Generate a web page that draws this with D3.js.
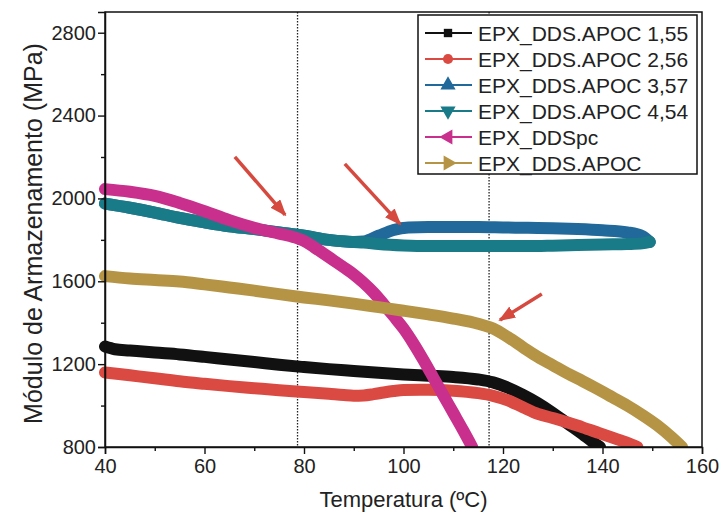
<!DOCTYPE html>
<html>
<head>
<meta charset="utf-8">
<script src="https://cdn.jsdelivr.net/npm/d3@7"></script>
<style>
  body { margin: 0; background: #fff; }
  text { font-family: "Liberation Sans", Arial, sans-serif; }
</style>
</head>
<body>
<div id="chart"></div>
<script>
//Series Names
const seriesNames = ["EPX_DDS.APOC 1,55", "EPX_DDS.APOC 2,56", "EPX_DDS.APOC 3,57", "EPX_DDS.APOC 4,54", "EPX_DDSpc", "EPX_DDS.APOC"];

//Temperatures (ºC) and Storage Modulus (MPa) for each series
const temp155 = [40, 42, 45, 50, 55, 60, 65, 70, 75, 80, 85, 90, 95, 100, 105, 110, 115, 118, 121, 124, 127, 130, 133, 136, 138, 139.5];
const mod155 = [1285, 1272, 1266, 1256, 1247, 1235, 1222, 1210, 1197, 1186, 1176, 1167, 1158, 1150, 1144, 1138, 1126, 1112, 1086, 1052, 1012, 965, 913, 862, 825, 800];

const temp256 = [40, 45, 50, 55, 60, 65, 70, 75, 80, 85, 88, 90, 92, 94, 96, 98, 100, 105, 110, 115, 118, 121, 124, 127, 130, 133, 136, 139, 142, 145, 147];
const mod256 = [1160, 1146, 1132, 1117, 1105, 1094, 1084, 1074, 1066, 1057, 1051, 1048, 1049, 1055, 1063, 1070, 1075, 1076, 1072, 1060, 1047, 1025, 992, 960, 940, 918, 895, 870, 845, 820, 800];

const temp357 = [40, 45, 50, 55, 60, 65, 70, 75, 80, 85, 90, 92, 95, 98, 101, 105, 110, 115, 120, 125, 130, 135, 140, 145, 148, 149.5];
const mod357 = [1975, 1955, 1932, 1906, 1885, 1866, 1852, 1836, 1820, 1800, 1790, 1792, 1820, 1848, 1860, 1862, 1862, 1862, 1860, 1858, 1856, 1852, 1846, 1836, 1818, 1790];

const temp454 = [40, 45, 50, 55, 60, 65, 70, 75, 80, 85, 90, 92, 95, 100, 105, 110, 115, 120, 125, 130, 135, 140, 145, 148, 149.5];
const mod454 = [1975, 1955, 1932, 1906, 1885, 1866, 1852, 1836, 1820, 1800, 1790, 1787, 1780, 1773, 1770, 1770, 1770, 1770, 1770, 1772, 1775, 1778, 1780, 1783, 1790];

const tempPc = [40, 45, 50, 55, 60, 65, 70, 75, 78, 80, 82, 84, 86, 88, 90, 92, 94, 96, 98, 100, 102, 104, 106, 108, 110, 112, 113.8];
const modPc = [2045, 2032, 2012, 1978, 1938, 1895, 1858, 1830, 1813, 1795, 1765, 1733, 1700, 1667, 1633, 1592, 1545, 1490, 1432, 1372, 1300, 1220, 1135, 1050, 965, 880, 800];

const tempApoc = [40, 45, 50, 55, 60, 65, 70, 75, 80, 85, 90, 95, 100, 105, 110, 115, 118, 121, 124, 127, 130, 133, 136, 139, 142, 145, 148, 151, 154, 156];
const modApoc = [1625, 1613, 1606, 1599, 1585, 1570, 1555, 1538, 1522, 1508, 1492, 1475, 1458, 1440, 1420, 1395, 1372, 1330, 1282, 1235, 1195, 1155, 1118, 1080, 1040, 1000, 955, 905, 845, 800];

//Axis Ticks
const xTicks = [40, 60, 80, 100, 120, 140, 160];
const xMinorTicks = [50, 70, 90, 110, 130, 150];
const yTicks = [800, 1200, 1600, 2000, 2400, 2800];
const yMinorTicks = [1000, 1400, 1800, 2200, 2600];

//Dotted Reference Temperatures
const refTemps = [78.7, 117.2];

//Red Arrows [temperature, modulus] from tail to head
const arrowTails = [[66.1, 2201], [88.2, 2167], [127.8, 1539]];
const arrowHeads = [[76.2, 1921], [99.3, 1877], [119.4, 1413]];

function drawChart() {
  //Chart Variables and Constants
  const width = 724;
  const height = 517;
  const margin = { top: 12, right: 22, bottom: 70, left: 105 };
  const colors = ["#111111", "#db4a42", "#21699a", "#1a7b88", "#c92f8c", "#b59445"];
  const symbols = ["square", "circle", "up", "down", "left", "right"];

  const svg = d3
    .select("#chart")
    .append("svg")
    .attr("width", width)
    .attr("height", height);

  const x = d3.scaleLinear().domain([40, 160]).range([margin.left, width - margin.right]);
  const y = d3.scaleLinear().domain([800, 2900]).range([height - margin.bottom, margin.top]);

  //Series Table
  const series = [
    [temp155, mod155],
    [temp256, mod256],
    [temp357, mod357],
    [temp454, mod454],
    [tempPc, modPc],
    [tempApoc, modApoc],
  ].map(([t, m], i) => ({
    name: seriesNames[i],
    color: colors[i],
    symbol: symbols[i],
    values: t.map((d, j) => ({ t: d, m: m[j] })),
  }));

  //Dotted Lines
  svg
    .selectAll(".ref")
    .data(refTemps)
    .enter()
    .append("line")
    .attr("x1", (d) => x(d))
    .attr("x2", (d) => x(d))
    .attr("y1", y(2900))
    .attr("y2", y(800))
    .attr("stroke", "#222")
    .attr("stroke-width", 1.3)
    .attr("stroke-dasharray", "1.5,1.5");

  //Curves
  const line = d3
    .line()
    .x((d) => x(d.t))
    .y((d) => y(d.m))
    .curve(d3.curveMonotoneX);

  svg
    .append("g")
    .selectAll("path")
    .data(series)
    .enter()
    .append("path")
    .attr("d", (d) => line(d.values))
    .attr("fill", "none")
    .attr("stroke", (d) => d.color)
    .attr("stroke-width", 12)
    .attr("stroke-linecap", "round")
    .attr("stroke-linejoin", "round");

  //Cover curves leaking under the x axis
  svg
    .append("rect")
    .attr("x", margin.left - 10)
    .attr("y", height - margin.bottom)
    .attr("width", width - margin.left - margin.right + 20)
    .attr("height", margin.bottom)
    .attr("fill", "#fff");

  //Arrows
  const defs = svg.append("defs");
  defs
    .append("marker")
    .attr("id", "arrow")
    .attr("markerUnits", "userSpaceOnUse")
    .attr("viewBox", "0 0 17 13")
    .attr("refX", 15)
    .attr("refY", 6.5)
    .attr("markerWidth", 17)
    .attr("markerHeight", 13)
    .attr("orient", "auto")
    .append("path")
    .attr("d", "M0,0 L17,6.5 L0,13 Z")
    .attr("fill", "#d6493f");

  svg
    .selectAll(".arrow")
    .data(arrowTails)
    .enter()
    .append("line")
    .attr("x1", (d) => x(d[0]))
    .attr("y1", (d) => y(d[1]))
    .attr("x2", (d, i) => x(arrowHeads[i][0]))
    .attr("y2", (d, i) => y(arrowHeads[i][1]))
    .attr("stroke", "#d6493f")
    .attr("stroke-width", 3.5)
    .attr("marker-end", "url(#arrow)");

  //Frame
  svg
    .append("rect")
    .attr("x", margin.left)
    .attr("y", margin.top)
    .attr("width", width - margin.left - margin.right)
    .attr("height", height - margin.top - margin.bottom)
    .attr("fill", "none")
    .attr("stroke", "#111")
    .attr("stroke-width", 1.5);

  //X Axis
  const xAxis = svg
    .append("g")
    .attr("transform", `translate(0, ${height - margin.bottom})`)
    .call(d3.axisBottom(x).tickValues(xTicks).tickSize(7).tickPadding(5).tickFormat(d3.format("d")));
  svg
    .append("g")
    .attr("transform", `translate(0, ${height - margin.bottom})`)
    .call(d3.axisBottom(x).tickValues(xMinorTicks).tickSize(4).tickFormat(""))
    .call((g) => g.select(".domain").remove());

  //Y Axis
  const yAxis = svg
    .append("g")
    .attr("transform", `translate(${margin.left}, 0)`)
    .call(d3.axisLeft(y).tickValues(yTicks).tickSize(7).tickPadding(2).tickFormat(d3.format("d")));
  svg
    .append("g")
    .attr("transform", `translate(${margin.left}, 0)`)
    .call(d3.axisLeft(y).tickValues(yMinorTicks).tickSize(4).tickFormat(""))
    .call((g) => g.select(".domain").remove());

  svg.selectAll(".tick line").attr("stroke", "#111").attr("stroke-width", 1.4);
  svg.selectAll(".domain").attr("stroke", "#111").attr("stroke-width", 1.5);
  [xAxis, yAxis].forEach((g) =>
    g.selectAll("text").attr("font-size", "20px").attr("fill", "#222")
      .style("font-family", "'Liberation Sans', Arial, sans-serif")
  );

  //Axis Titles
  svg
    .append("text")
    .attr("x", (margin.left + width - margin.right) / 2)
    .attr("y", 507)
    .attr("text-anchor", "middle")
    .attr("font-size", "22px")
    .attr("fill", "#222")
    .text("Temperatura (ºC)");

  svg
    .append("text")
    .attr("transform", `translate(42, ${(y(800) + y(2900)) / 2 + 4}) rotate(-90)`)
    .attr("text-anchor", "middle")
    .attr("font-size", "25px")
    .attr("fill", "#222")
    .text("Módulo de Armazenamento (MPa)");

  //Legend
  const legend = svg.append("g").attr("transform", "translate(418, 15)");
  legend
    .append("rect")
    .attr("width", 279)
    .attr("height", 159)
    .attr("fill", "#fff")
    .attr("stroke", "#111")
    .attr("stroke-width", 1.5);

  const items = legend
    .selectAll(".legend-item")
    .data(series)
    .enter()
    .append("g")
    .attr("transform", (d, i) => `translate(0, ${18 + i * 26})`);

  items
    .append("line")
    .attr("x1", 7)
    .attr("x2", 54)
    .attr("stroke", (d) => d.color)
    .attr("stroke-width", 2);

  const rotation = { up: 0, down: 180, left: -90, right: 90 };
  items
    .append("path")
    .attr("transform", (d) => `translate(30, 0) rotate(${rotation[d.symbol] || 0})`)
    .attr("d", (d) => {
      if (d.symbol === "square") return d3.symbol(d3.symbolSquare, 70)();
      if (d.symbol === "circle") return d3.symbol(d3.symbolCircle, 80)();
      return d3.symbol(d3.symbolTriangle, 100)();
    })
    .attr("fill", (d) => d.color);

  items
    .append("text")
    .attr("x", 60)
    .attr("dy", "0.36em")
    .attr("font-size", "21px")
    .attr("fill", "#222")
    .text((d) => d.name);
}

drawChart();
</script>
</body>
</html>
